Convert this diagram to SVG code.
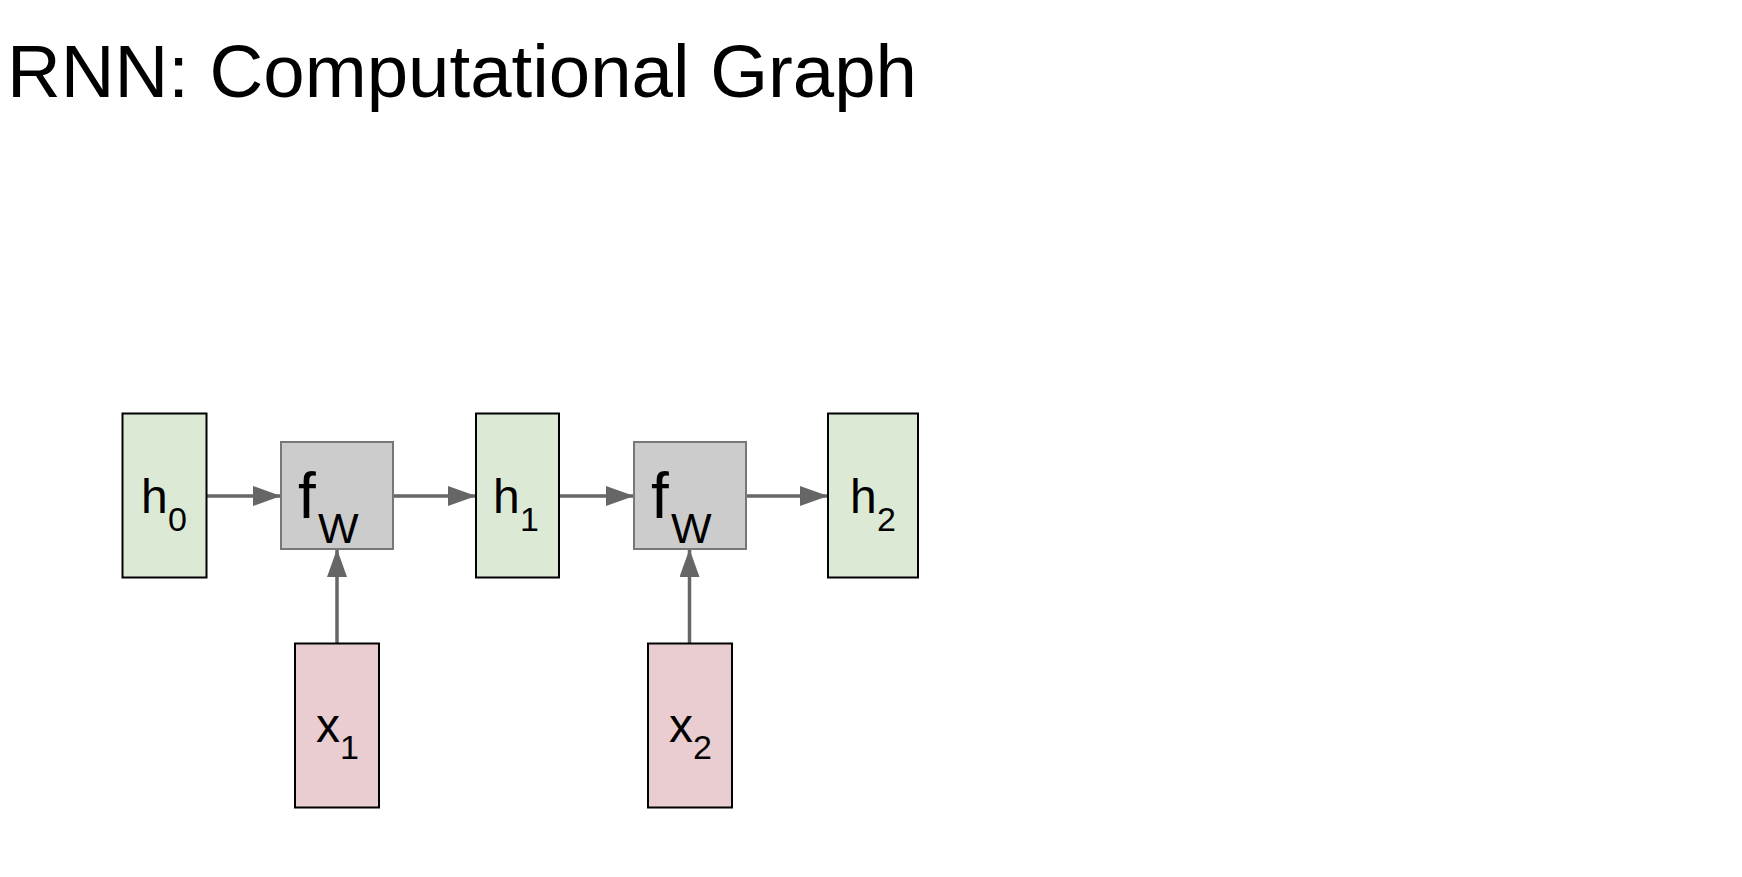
<svg xmlns="http://www.w3.org/2000/svg" width="1742" height="877" viewBox="0 0 1742 877">
<style>
text{font-family:"Liberation Sans",Arial,sans-serif;fill:#000}
.state{fill:#dce9d5;stroke:#000;stroke-width:2}
.input{fill:#eacdd0;stroke:#000;stroke-width:2}
.fn{fill:#cccccc;stroke:#777;stroke-width:2}
.main{font-size:48px}
.sub{font-size:34px}
.conn{stroke:#666;stroke-width:3.5;fill:none;marker-end:url(#arr)}
</style>
<defs>
<marker id="arr" markerUnits="userSpaceOnUse" markerWidth="28" markerHeight="20" refX="28" refY="10" orient="auto">
<path d="M0,0 L28,10 L0,20 z" fill="#666"/>
</marker>
</defs>
<rect width="1742" height="877" fill="#fff"/>
<text id="title" x="7" y="97" font-size="75" textLength="910" lengthAdjust="spacingAndGlyphs">RNN: Computational Graph</text>
<g id="connectors">
<line class="conn" x1="207" y1="496" x2="281" y2="496"/>
<line class="conn" x1="393" y1="496" x2="476" y2="496"/>
<line class="conn" x1="559" y1="496" x2="634" y2="496"/>
<line class="conn" x1="746" y1="496" x2="828" y2="496"/>
<line class="conn" x1="337" y1="643" x2="337" y2="549"/>
<line class="conn" x1="689.5" y1="643" x2="689.5" y2="549"/>
</g>
<g id="h0">
<rect class="state" x="122.5" y="413.5" width="84" height="164"/>
<text class="main" x="141" y="513">h<tspan class="sub" x="168" y="531">0</tspan></text>
</g>
<g id="fw1">
<rect class="fn" x="281" y="442" width="112" height="107"/>
<text x="298" y="518" font-size="64">f<tspan x="318" y="543" font-size="43">W</tspan></text>
</g>
<g id="h1">
<rect class="state" x="476" y="413.5" width="83" height="164"/>
<text class="main" x="493" y="513">h<tspan class="sub" x="520" y="531">1</tspan></text>
</g>
<g id="fw2">
<rect class="fn" x="634" y="442" width="112" height="107"/>
<text x="651" y="518" font-size="64">f<tspan x="671" y="543" font-size="43">W</tspan></text>
</g>
<g id="h2">
<rect class="state" x="828" y="413.5" width="90" height="164"/>
<text class="main" x="850" y="513">h<tspan class="sub" x="877" y="531">2</tspan></text>
</g>
<g id="x1">
<rect class="input" x="295" y="643.5" width="84" height="164"/>
<text class="main" x="316" y="742">x<tspan class="sub" x="340" y="759">1</tspan></text>
</g>
<g id="x2">
<rect class="input" x="648" y="643.5" width="84" height="164"/>
<text class="main" x="669" y="742">x<tspan class="sub" x="693" y="759">2</tspan></text>
</g>
</svg>
